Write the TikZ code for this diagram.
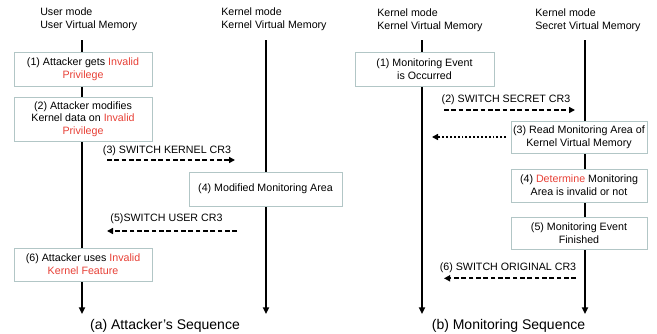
\documentclass[tikz,border=0pt]{standalone}
\usepackage{fontspec}
\setmainfont{Liberation Sans}
\usetikzlibrary{arrows.meta}
\definecolor{boxline}{RGB}{178,198,198}
\definecolor{hl}{RGB}{232,65,55}
\begin{document}
\begin{tikzpicture}[x=0.75pt,y=-0.75pt,
  txt/.style={font=\fontsize{8}{9.5}\selectfont, inner sep=0pt},
  hdr/.style={txt, align=left, anchor=west},
  evbox/.style={draw=boxline, line width=0.75pt, fill=white, align=center,
    font=\fontsize{8}{9.5}\selectfont, inner sep=0pt},
  life/.style={line width=1.5pt, -{Triangle[length=5pt,width=4.5pt]}},
  msg/.style={line width=1.5pt, dash pattern=on 3.5pt off 2pt,
    -{Triangle[length=4.5pt,width=4.5pt]}},
  dotmsg/.style={line width=1.5pt, dash pattern=on 1.4pt off 1.5pt,
    -{Triangle[length=4.5pt,width=4.5pt]}},
  ttl/.style={font=\fontsize{10.5}{12}\selectfont, inner sep=0pt}
]
\useasboundingbox (0,0) rectangle (657,333);

% headers
\node[hdr] (h1) at (40,19) {User mode\\User Virtual Memory};
\node[hdr] (h2) at (221,19) {Kernel mode\\Kernel Virtual Memory};
\node[hdr] (h3) at (377,20) {Kernel mode\\Kernel Virtual Memory};
\node[hdr] (h4) at (535,20) {Kernel mode\\Secret Virtual Memory};

% lifelines
\coordinate (u0) at (82,40);  \coordinate (u1) at (82,314);
\coordinate (k0) at (266,40); \coordinate (k1) at (266,314);
\coordinate (m0) at (422,40); \coordinate (m1) at (422,314);
\coordinate (s0) at (585,40); \coordinate (s1) at (585,314);
\draw[life] (u0) -- (u1);
\draw[life] (k0) -- (k1);
\draw[life] (m0) -- (m1);
\draw[life] (s0) -- (s1);

% (a) boxes
\node[evbox, minimum width=103.5pt, minimum height=25.5pt] (a1) at (83,69)
  {(1) Attacker gets \textcolor{hl}{Invalid}\\\textcolor{hl}{Privilege}};
\node[evbox, minimum width=103.5pt, minimum height=33pt] (a2) at (83,119)
  {(2) Attacker modifies\\Kernel data on \textcolor{hl}{Invalid}\\\textcolor{hl}{Privilege}};
\node[evbox, minimum width=114.75pt, minimum height=25.5pt] (a4) at (265.5,189)
  {(4) Modified Monitoring Area};
\node[evbox, minimum width=103.5pt, minimum height=24.75pt] (a6) at (83,264.5)
  {(6) Attacker uses \textcolor{hl}{Invalid}\\\textcolor{hl}{Kernel Feature}};

% (a) messages
\coordinate (a3s) at (107,160); \coordinate (a3e) at (235,160);
\draw[msg] (a3s) -- (a3e);
\node[txt] (a3l) at (167,151) {(3) SWITCH KERNEL CR3};
\coordinate (a5s) at (237,231); \coordinate (a5e) at (107,231);
\draw[msg] (a5s) -- (a5e);
\node[txt] (a5l) at (166.5,218.5) {(5)SWITCH USER CR3};

% (b) boxes
\node[evbox, minimum width=104.25pt, minimum height=25.5pt] (b1) at (424.5,69)
  {(1) Monitoring Event\\is Occurred};
\node[evbox, minimum width=102pt, minimum height=24pt] (b3) at (579,137)
  {(3) Read Monitoring Area of\\Kernel Virtual Memory};
\node[evbox, minimum width=102pt, minimum height=24.75pt] (b4) at (579,185.5)
  {(4) \textcolor{hl}{Determine} Monitoring\\Area is invalid or not};
\node[evbox, minimum width=102pt, minimum height=24pt] (b5) at (579,233)
  {(5) Monitoring Event\\Finished};

% (b) messages
\coordinate (b2s) at (444,110); \coordinate (b2e) at (575,110);
\draw[msg] (b2s) -- (b2e);
\node[txt] (b2l) at (506,99.3) {(2) SWITCH SECRET CR3};
\coordinate (b3s) at (506,137); \coordinate (b3e) at (432,137);
\draw[dotmsg] (b3s) -- (b3e);
\coordinate (b6s) at (576,278.3); \coordinate (b6e) at (444,278.3);
\draw[msg] (b6s) -- (b6e);
\node[txt] (b6l) at (508,267.7) {(6) SWITCH ORIGINAL CR3};

% titles
\node[ttl] (ta) at (165,326) {(a) Attacker’s Sequence};
\node[ttl] (tb) at (508.5,326) {(b) Monitoring Sequence};
\end{tikzpicture}
\end{document}
